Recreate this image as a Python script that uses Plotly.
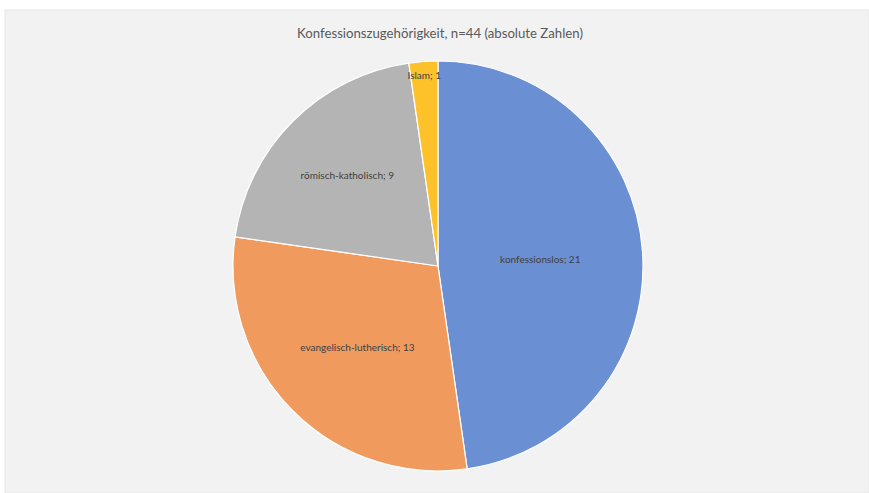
import plotly.graph_objects as go

categories = ["konfessionslos", "evangelisch-lutherisch", "römisch-katholisch", "Islam"]
values = [21, 13, 9, 1]
colors = ["#6a8fd2", "#f09a5e", "#b4b4b4", "#fdc12a"]

W, H = 869, 493
cx, cy, r = 438, 266, 205

fig = go.Figure(go.Pie(
    labels=categories,
    values=values,
    sort=False,
    direction="clockwise",
    rotation=0,
    marker=dict(colors=colors, line=dict(color="white", width=1.2)),
    texttemplate="%{label}; %{value}",
    textposition="inside",
    insidetextorientation="horizontal",
    textfont=dict(family="Lato", size=10, color="#404040"),
    hoverinfo="label+value",
    showlegend=False,
    domain=dict(x=[(cx - r) / W, (cx + r) / W], y=[1 - (cy + r) / H, 1 - (cy - r) / H]),
))

fig.update_layout(
    width=W, height=H,
    margin=dict(l=0, r=0, t=0, b=0),
    paper_bgcolor="white",
    uniformtext=dict(minsize=10, mode="show"),
    title=dict(
        text="Konfessionszugehörigkeit, n=44 (absolute Zahlen)",
        x=440 / W, xanchor="center", y=1 - 33 / H, yanchor="middle",
        font=dict(family="Lato", size=13.2, color="#595959"),
    ),
    shapes=[dict(type="rect", xref="paper", yref="paper",
                 x0=5 / W, x1=1, y0=0, y1=1 - 10 / H,
                 fillcolor="#f2f2f2", line=dict(color="#e6e6e6", width=1), layer="below")],
)

fig.write_html("out.html", config={"displayModeBar": False},
               post_script="document.body.style.margin='0';document.body.style.overflow='hidden';")
